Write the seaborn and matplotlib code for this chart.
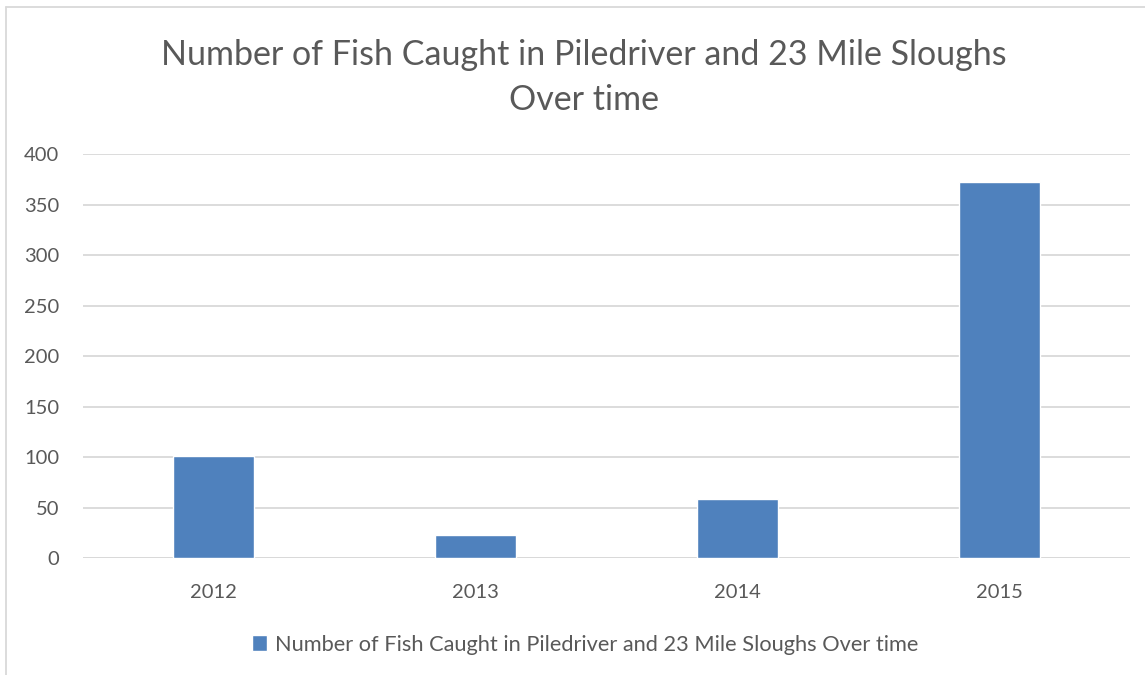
import matplotlib.pyplot as plt
import seaborn as sns
import pandas as pd
from matplotlib.lines import Line2D

# data
years = ["2012", "2013", "2014", "2015"]
fish_counts = [101, 23, 58, 372]
series_name = "Number of Fish Caught in Piledriver and 23 Mile Sloughs Over time"
title = "Number of Fish Caught in Piledriver and 23 Mile Sloughs\nOver time"

df = pd.DataFrame({"Year": years, "Fish": fish_counts})

sns.set_style("white")
plt.rcParams["font.family"] = ["Lato", "DejaVu Sans"]

fig = plt.figure(figsize=(11.45, 6.75), dpi=100)
ax = fig.add_axes([0.0725, 0.1733, 0.9145, 0.5985])

sns.barplot(data=df, x="Year", y="Fish", color="#4F81BD", saturation=1,
            width=0.31, label=series_name, ax=ax)

ax.set_ylim(0, 400)
ax.set_yticks(range(0, 401, 50))
ax.set_xlim(-0.5, 3.5)
ax.yaxis.grid(True, color="#D9D9D9", linewidth=1.3)
ax.set_axisbelow(True)
for s in ax.spines.values():
    s.set_visible(False)
ax.axhline(0, color="#D9D9D9", linewidth=1.3, zorder=0)
ax.tick_params(axis="both", length=0, labelsize=14.5, labelcolor="#595959")
ax.tick_params(axis="x", pad=19)
ax.tick_params(axis="y", pad=17)
ax.set_xlabel("")
ax.set_ylabel("")

fig.suptitle(title, x=0.51, y=0.942, fontsize=24.5, color="#595959", linespacing=1.5)

ax.legend(loc="center", bbox_to_anchor=(0.511, 0.045), bbox_transform=fig.transFigure,
          frameon=False, fontsize=15.7, labelcolor="#595959", handlelength=0.7,
          handleheight=0.7, handletextpad=0.35)

# chart frame (left and top edges visible in the crop)
fig.add_artist(Line2D([6 / 1145, 6 / 1145], [0, 1 - 7 / 675], color="#D9D9D9", linewidth=1.3))
fig.add_artist(Line2D([6 / 1145, 1], [1 - 7 / 675, 1 - 7 / 675], color="#D9D9D9", linewidth=1.3))

plt.savefig("out.png", dpi=100)
